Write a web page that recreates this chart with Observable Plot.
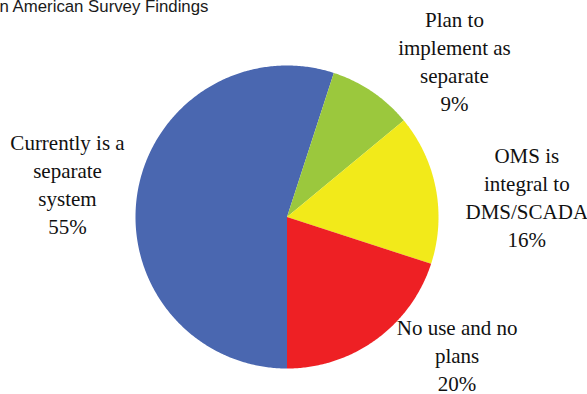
<!DOCTYPE html>
<html><head><meta charset="utf-8">
<script src="https://cdn.jsdelivr.net/npm/d3@7"></script>
<script src="https://cdn.jsdelivr.net/npm/@observablehq/plot@0.6"></script>
<style>
body{margin:0;background:#fff;overflow:hidden}
#warm{position:absolute;left:-9999px;top:0;font:21px "Liberation Serif";}
#warm2{position:absolute;left:-9999px;top:0;font:17px "Liberation Sans";}
</style>
</head><body>
<div id="warm">Currently is a separate system 55% Plan to implement as 9% OMS integral DMS/SCADA 16% No use and no plans 20%</div>
<div id="warm2">n American Survey Findings</div>
<div id="chart"></div>
<script>
const title = "n American Survey Findings";
const categories = ["Currently is a separate system", "Plan to implement as separate", "OMS is integral to DMS/SCADA", "No use and no plans"];
const values = [55, 9, 16, 20];
const labelLines = [
  ["Currently is a", "separate", "system", "55%"],
  ["Plan to", "implement as", "separate", "9%"],
  ["OMS is", "integral to", "DMS/SCADA", "16%"],
  ["No use and no", "plans", "20%"]
];
const colors = ["#4A67B0", "#9BC83D", "#F2EA1A", "#EE2024"];

const W = 587, H = 394;
const cx = 286.5, cy = 216.5, R = 151.5;
const lineH = 28;

const arcs = d3.pie().sort(null).value(d => d).startAngle(Math.PI).endAngle(3 * Math.PI)(values);

// polygon points for each slice, derived from pie angles
const slicePts = [];
arcs.forEach((a, i) => {
  const n = Math.max(2, Math.ceil((a.endAngle - a.startAngle) / 0.01));
  slicePts.push({k: i, x: 0, y: 0, c: colors[i]});
  for (let j = 0; j <= n; j++) {
    const t = a.startAngle + (a.endAngle - a.startAngle) * j / n;
    slicePts.push({k: i, x: Math.sin(t), y: Math.cos(t), c: colors[i]});
  }
  slicePts.push({k: i, x: 0, y: 0, c: colors[i]});
});

// label anchors along each slice's mid-angle, nudged (px) like Excel's best-fit; one row per text line
const nudge = [[-2.5, 3], [44, 27], [24, 22], [41, -38]];
const labelRows = [];
arcs.forEach((a, i) => {
  const m = (a.startAngle + a.endAngle) / 2;
  const lines = labelLines[i];
  lines.forEach((t, j) => {
    const off = nudge[i][1] + (j - (lines.length - 1) / 2) * lineH;
    labelRows.push({
      x: 1.45 * Math.sin(m) + nudge[i][0] / R,
      y: 1.45 * Math.cos(m) - off / R,
      text: t
    });
  });
});

const xDomain = [-cx / R, (W - cx) / R];
const yDomain = [-(H - cy) / R, cy / R];

function render() {
  const plot = Plot.plot({
    width: W, height: H,
    margin: 0,
    x: {domain: xDomain, axis: null},
    y: {domain: yDomain, axis: null},
    color: {type: "identity"},
    marks: [
      Plot.line(slicePts, {x: "x", y: "y", z: "k", fill: "c", stroke: "none", curve: "linear"}),
      Plot.text(labelRows, {
        x: "x", y: "y", text: "text",
        fontFamily: "Liberation Serif", fontSize: 21,
        textAnchor: "middle", lineAnchor: "middle", fill: "#111"
      }),
      Plot.text([title], {
        frameAnchor: "top-left", text: d => d, textAnchor: "start", lineAnchor: "top",
        dx: -1, dy: 0, fontFamily: "Liberation Sans", fontSize: 16.8, fill: "#1a1a1a"
      })
    ]
  });
  d3.select(plot).selectAll("text").each(function() {
    const f = this.textContent === title ? "Liberation Sans" : "Liberation Serif";
    this.setAttribute("font-family", f);
  });
  const host = document.getElementById("chart");
  host.replaceChildren(plot);
}
render();
document.fonts.load("21px 'Liberation Serif'").then(() => document.fonts.ready).then(render).catch(() => {});
</script>
</body></html>
